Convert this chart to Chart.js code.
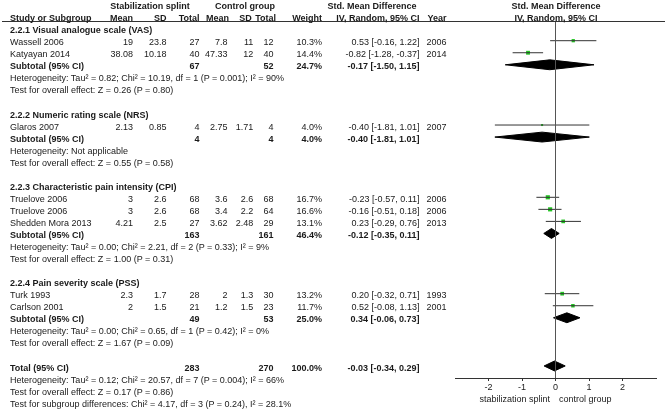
<!DOCTYPE html>
<html>
<head>
<meta charset="utf-8">
<script src="https://cdn.jsdelivr.net/npm/chart.js@4.4.1/dist/chart.umd.min.js"></script>
<style>
  body{margin:0;background:#fff;}
  #wrap{position:relative;width:667px;height:411px;overflow:hidden;font-family:'Liberation Sans',Arial,sans-serif;font-size:9px;color:#1a1a1a;}
  #plot{position:absolute;left:0;top:0;width:667px;height:411px;}
  .t{position:absolute;white-space:nowrap;line-height:12px;height:12px;}
  .b{font-weight:bold;}
  #rule{position:absolute;left:2px;top:21px;width:663px;height:0;border-top:1px solid #333;}
</style>
</head>
<body>
<div id="wrap"><div id="plot"><canvas id="c"></canvas></div><div id="rule"></div></div>
<script>
// ---------- data ----------
const studies    = ['Wassell 2006','Katyayan 2014','Glaros 2007','Truelove 2006','Truelove 2006','Shedden Mora 2013','Turk 1993','Carlson 2001'];
const studyGroup = [0,0,1,2,2,2,3,3];
const expMean = [19,38.08,2.13,3,3,4.21,2.3,2];
const expSD   = [23.8,10.18,0.85,2.6,2.6,2.5,1.7,1.5];
const expN    = [27,40,4,68,68,27,28,21];
const ctlMean = [7.8,47.33,2.75,3.6,3.4,3.62,2,1.2];
const ctlSD   = [11,12,1.71,2.6,2.2,2.48,1.3,1.5];
const ctlN    = [12,40,4,68,64,29,30,23];
const weight  = [10.3,14.4,4.0,16.7,16.6,13.1,13.2,11.7];
const smd     = [0.53,-0.82,-0.40,-0.23,-0.16,0.23,0.20,0.52];
const smdLo   = [-0.16,-1.28,-1.81,-0.57,-0.51,-0.29,-0.32,-0.08];
const smdHi   = [1.22,-0.37,1.01,0.11,0.18,0.76,0.71,1.13];
const years   = [2006,2014,2007,2006,2006,2013,1993,2001];

const groups    = ['2.2.1 Visual analogue scale (VAS)','2.2.2 Numeric rating scale (NRS)','2.2.3 Characteristic pain intensity (CPI)','2.2.4 Pain severity scale (PSS)'];
const subExpN   = [67,4,163,49];
const subCtlN   = [52,4,161,53];
const subWeight = [24.7,4.0,46.4,25.0];
const subSmd    = [-0.17,-0.40,-0.12,0.34];
const subLo     = [-1.50,-1.81,-0.35,-0.06];
const subHi     = [1.15,1.01,0.11,0.73];
const subHet = ['Tau² = 0.82; Chi² = 10.19, df = 1 (P = 0.001); I² = 90%','Not applicable',
                'Tau² = 0.00; Chi² = 2.21, df = 2 (P = 0.33); I² = 9%','Tau² = 0.00; Chi² = 0.65, df = 1 (P = 0.42); I² = 0%'];
const subZ   = ['Z = 0.26 (P = 0.80)','Z = 0.55 (P = 0.58)','Z = 1.00 (P = 0.31)','Z = 1.67 (P = 0.09)'];

const totalN      = [283,270];
const totalWeight = 100.0;
const totalEst    = [-0.03,-0.34,0.29]; // est, lo, hi
const totalHet    = 'Tau² = 0.12; Chi² = 20.57, df = 7 (P = 0.004); I² = 66%';
const totalZ      = 'Z = 0.17 (P = 0.86)';
const subgroupDiff = 'Chi² = 4.17, df = 3 (P = 0.24), I² = 28.1%';

const xTicks  = [-2,-1,0,1,2];
const favours = ['stabilization splint','control group'];

// ---------- layout ----------
const ROW0 = 42.2, PITCH = 12.05;
const studyRow = [], subRow = [], headRow = [], hetRow = [], zRow = [];
let r = -1;
groups.forEach((g,gi)=>{
  headRow[gi] = r++;
  studies.forEach((s,i)=>{ if(studyGroup[i]===gi) studyRow[i] = r++; });
  subRow[gi] = r++; hetRow[gi] = r++; zRow[gi] = r++; r++;
});
const totalRow = r;

const wrap = document.getElementById('wrap');
function txt(s, x, row, align, bold){
  const d = document.createElement('div');
  d.className = 't' + (bold ? ' b' : '');
  d.textContent = s;
  d.style.top = (ROW0 + PITCH*row - 6) + 'px';
  if(align==='r'){ d.style.left = (x-150)+'px'; d.style.width='150px'; d.style.textAlign='right'; }
  else if(align==='c'){ d.style.left = (x-150)+'px'; d.style.width='300px'; d.style.textAlign='center'; }
  else d.style.left = x+'px';
  wrap.appendChild(d);
}
const X = {name:10, eMean:133, eSD:166.5, eN:199.5, cMean:227.5, cSD:253.3, cN:273.5, w:322, ci:419.5, yr:446.5};
const ci = (e,l,h)=> `${e.toFixed(2)} [${l.toFixed(2)}, ${h.toFixed(2)}]`;

// headers
txt('Stabilization splint',150,-3,'c',1); txt('Control group',245,-3,'c',1);
txt('Std. Mean Difference',372,-3,'c',1); txt('Std. Mean Difference',556,-3,'c',1);
txt('Study or Subgroup',X.name,-2,'l',1);
txt('Mean',X.eMean,-2,'r',1); txt('SD',X.eSD,-2,'r',1); txt('Total',X.eN,-2,'r',1);
txt('Mean',X.cMean+1.5,-2,'r',1); txt('SD',X.cSD-1.5,-2,'r',1); txt('Total',X.cN+2.5,-2,'r',1);
txt('Weight',X.w,-2,'r',1); txt('IV, Random, 95% CI',X.ci,-2,'r',1); txt('Year',X.yr,-2,'r',1);
txt('IV, Random, 95% CI',556,-2,'c',1);

groups.forEach((g,gi)=>{
  txt(g,X.name,headRow[gi],'l',1);
  txt('Subtotal (95% CI)',X.name,subRow[gi],'l',1);
  txt(String(subExpN[gi]),X.eN,subRow[gi],'r',1);
  txt(String(subCtlN[gi]),X.cN,subRow[gi],'r',1);
  txt(subWeight[gi].toFixed(1)+'%',X.w,subRow[gi],'r',1);
  txt(ci(subSmd[gi],subLo[gi],subHi[gi]),X.ci,subRow[gi],'r',1);
  txt('Heterogeneity: '+subHet[gi],X.name,hetRow[gi],'l');
  txt('Test for overall effect: '+subZ[gi],X.name,zRow[gi],'l');
});
studies.forEach((s,i)=>{
  const row = studyRow[i];
  txt(s,X.name,row,'l');
  txt(String(expMean[i]),X.eMean,row,'r'); txt(String(expSD[i]),X.eSD,row,'r'); txt(String(expN[i]),X.eN,row,'r');
  txt(String(ctlMean[i]),X.cMean,row,'r'); txt(String(ctlSD[i]),X.cSD,row,'r'); txt(String(ctlN[i]),X.cN,row,'r');
  txt(weight[i].toFixed(1)+'%',X.w,row,'r');
  txt(ci(smd[i],smdLo[i],smdHi[i]),X.ci,row,'r');
  txt(String(years[i]),X.yr,row,'r');
});
txt('Total (95% CI)',X.name,totalRow,'l',1);
txt(String(totalN[0]),X.eN,totalRow,'r',1); txt(String(totalN[1]),X.cN,totalRow,'r',1);
txt(totalWeight.toFixed(1)+'%',X.w,totalRow,'r',1);
txt(ci(totalEst[0],totalEst[1],totalEst[2]),X.ci,totalRow,'r',1);
txt('Heterogeneity: '+totalHet,X.name,totalRow+1,'l');
txt('Test for overall effect: '+totalZ,X.name,totalRow+2,'l');
txt('Test for subgroup differences: '+subgroupDiff,X.name,totalRow+3,'l');

// favours labels under the axis
txt(favours[0],550,29.6,'r'); txt(favours[1],559,29.6,'l');

// ---------- chart ----------
const Y_MIN = (22 - (ROW0-1.5))/PITCH, Y_MAX = totalRow + 1;
const DH = 0.41; // diamond half-height in rows
const datasets = [];
datasets.push({data:[{x:0,y:Y_MIN},{x:0,y:Y_MAX}], showLine:true, borderColor:'#555', borderWidth:1, pointRadius:0});
studies.forEach((s,i)=>{
  datasets.push({data:[{x:smdLo[i],y:studyRow[i]},{x:smdHi[i],y:studyRow[i]}], showLine:true, borderColor:'#333', borderWidth:1, pointRadius:0});
});
function diamond(e,l,h,row){
  return {data:[{x:l,y:row},{x:e,y:row-DH},{x:h,y:row},{x:e,y:row+DH},{x:l,y:row}],
    showLine:true, fill:'shape', backgroundColor:'#000', borderColor:'#000', borderWidth:1, pointRadius:0, tension:0};
}
groups.forEach((g,gi)=> datasets.push(diamond(subSmd[gi],subLo[gi],subHi[gi],subRow[gi])));
datasets.push(diamond(totalEst[0],totalEst[1],totalEst[2],totalRow));
datasets.push({data:studies.map((s,i)=>({x:smd[i],y:studyRow[i]})), showLine:false, pointStyle:'rect',
  pointRadius:weight.map(w=>0.72*Math.sqrt(w)), backgroundColor:'#22c422', borderWidth:0});

new Chart(document.getElementById('c'), {
  type:'scatter',
  data:{datasets},
  options:{
    responsive:true, maintainAspectRatio:false, animation:false, events:[],
    layout:{padding:{left:455, right:11, top:22, bottom:0}},
    plugins:{legend:{display:false}, tooltip:{enabled:false}},
    scales:{
      x:{type:'linear', min:-3, max:3,
         afterBuildTicks:s=>{ s.ticks = xTicks.map(v=>({value:v})); },
         afterFit:s=>{ s.height = 33; },
         ticks:{color:'#222', padding:1, maxRotation:0, autoSkip:false, font:{size:9, family:"'Liberation Sans', Arial, sans-serif"}},
         grid:{drawOnChartArea:false, drawTicks:true, tickLength:3, color:'#333'},
         border:{color:'#333'}},
      y:{type:'linear', min:Y_MIN, max:Y_MAX, reverse:true, display:false}
    }
  }
});
</script>
</body>
</html>
